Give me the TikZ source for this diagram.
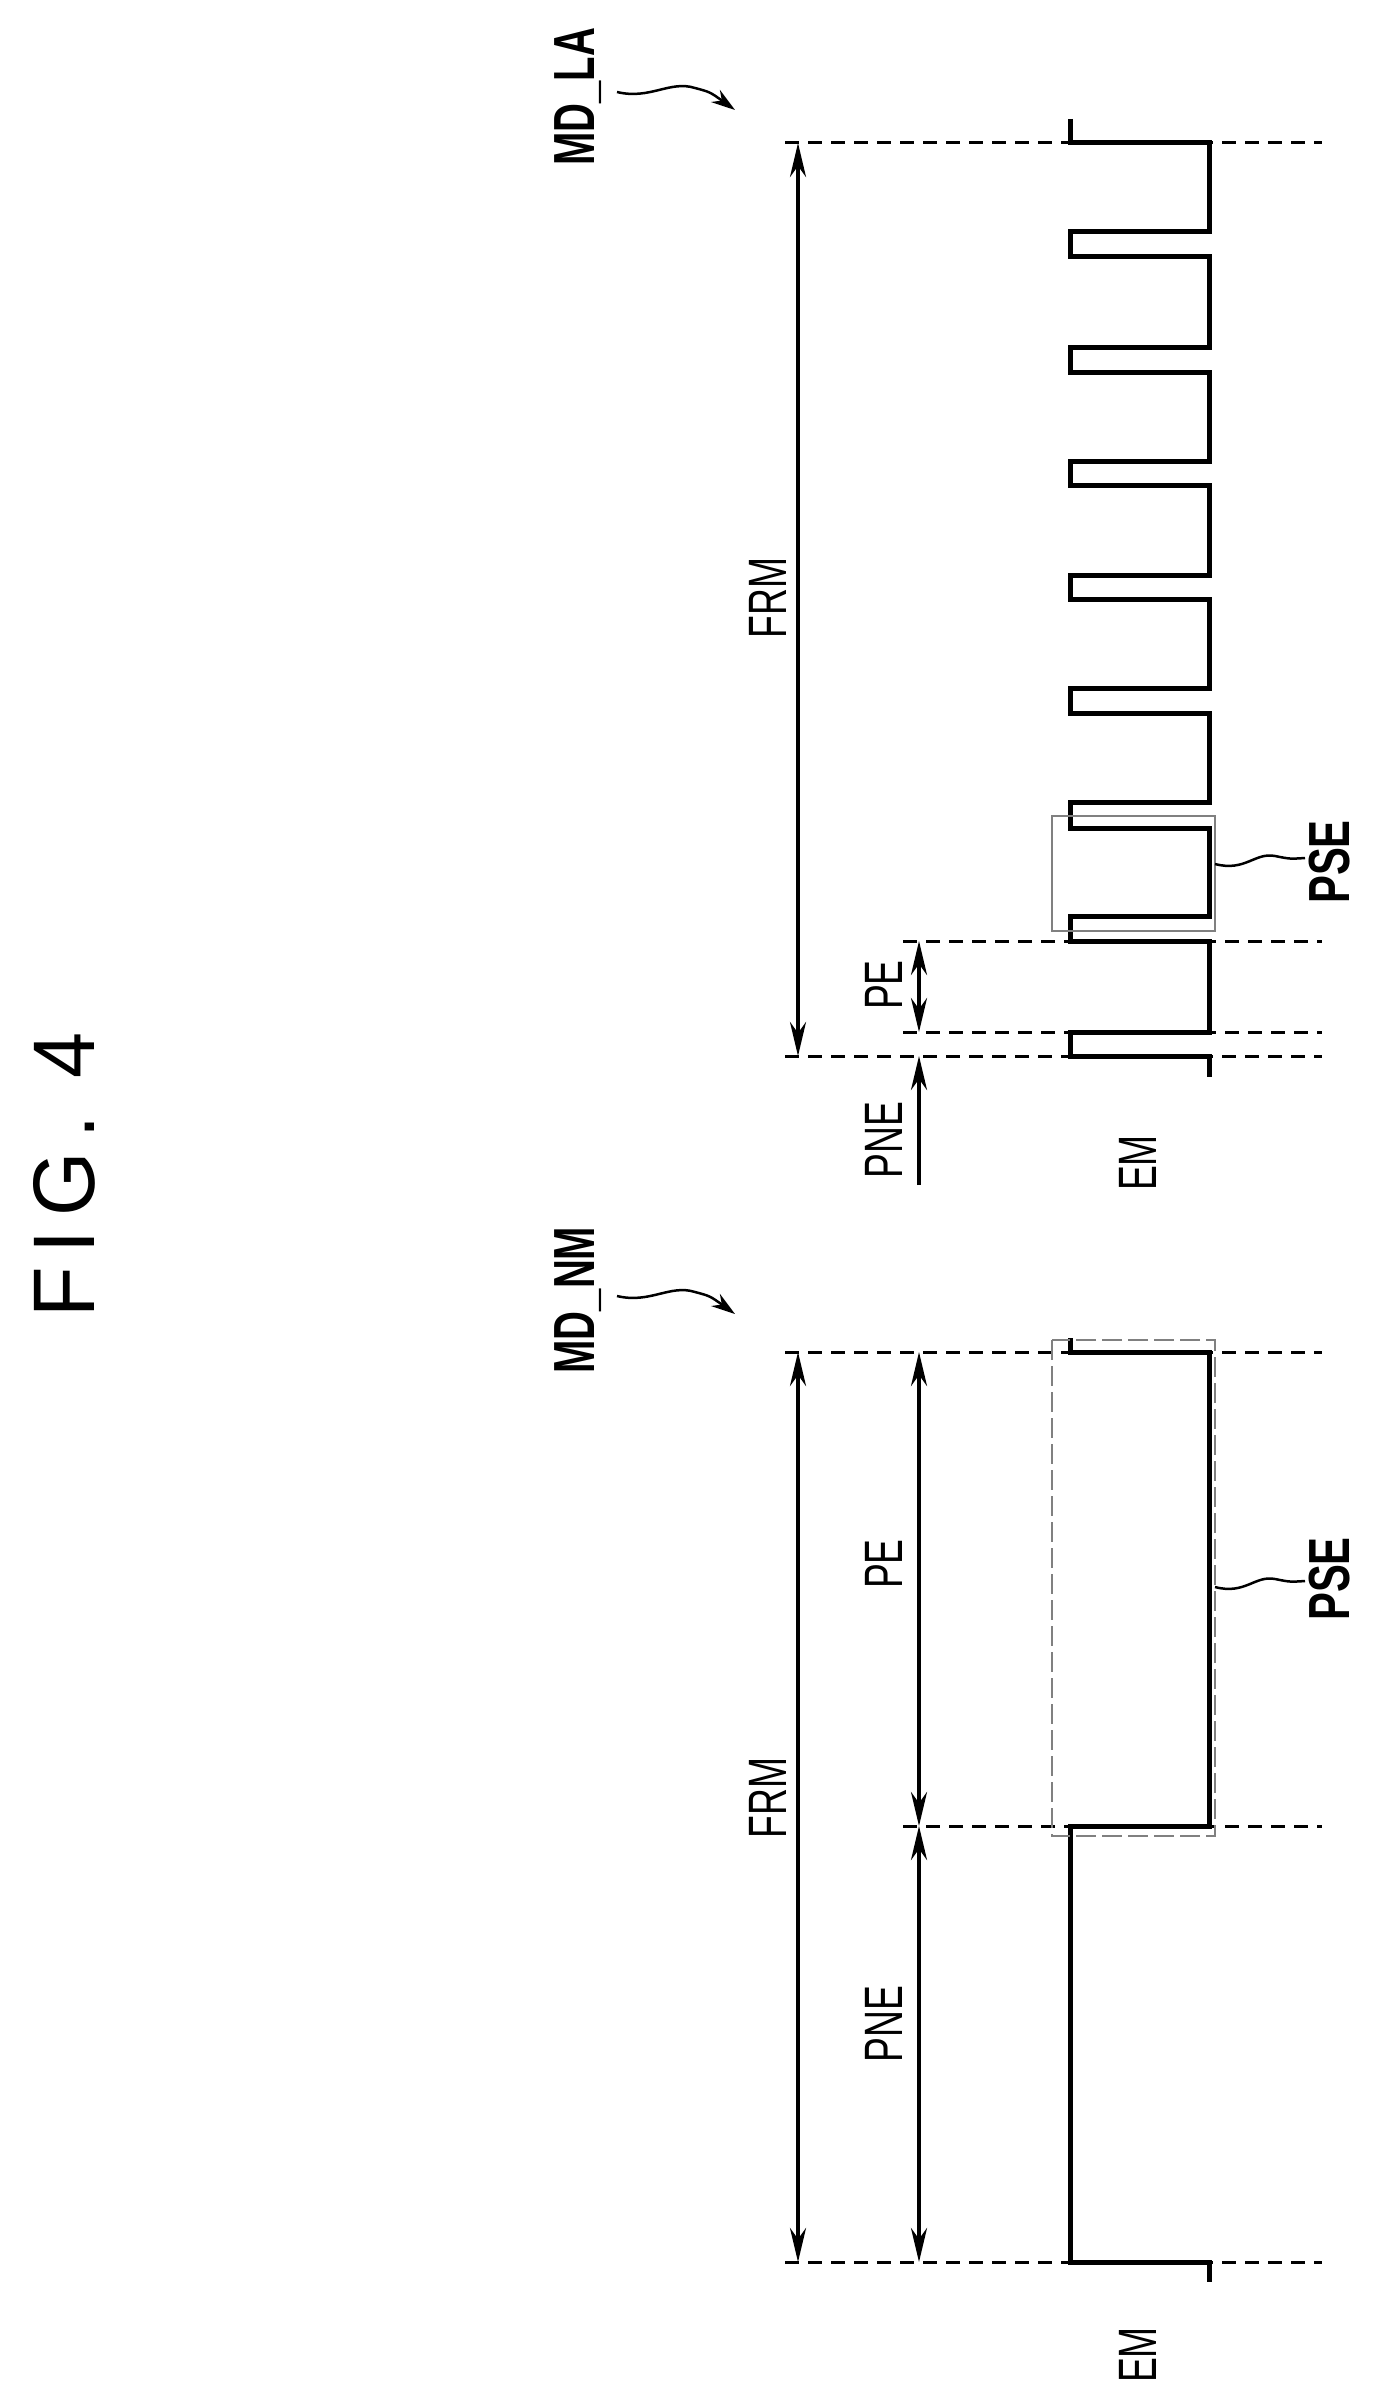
\documentclass[tikz,border=0pt]{standalone}
\usepackage{fontspec}
\setmainfont{Liberation Sans}
\usetikzlibrary{arrows.meta}
\begin{document}
\begin{tikzpicture}[x=1pt,y=-1pt,
  sig/.style={line width=5pt,line join=miter},
  guide/.style={line width=3pt,dash pattern=on 14pt off 9pt},
  dim/.style={line width=4pt,{Stealth[length=34pt,width=16pt]}-{Stealth[length=34pt,width=16pt]}},
  sdim/.style={line width=4pt,-{Stealth[length=34pt,width=16pt]}},
  lbl/.style={rotate=90,font=\fontsize{54}{54}\selectfont},
  blbl/.style={rotate=90,font=\fontsize{58}{58}\selectfont\bfseries},
  lead/.style={line width=2.5pt},
  box/.style={draw=gray,line width=1.8pt}]
\useasboundingbox (0,0) rectangle (1375,2408);
% title
\node[rotate=90,font=\fontsize{92}{92}\selectfont] (fig) at (64,1175) {\scalebox{0.9}[0.95]{F\,I\,G\,.\;\,4}};
% ---------- top panel MD_LA ----------
\foreach \y/\x in {143/785,941/903,1032/903,1056/785}{\draw[guide] (\x,\y) -- (1322,\y);}
\draw[sig] (1070,119) -- (1070,143) -- (1209,143)
  \foreach \a/\b in {232/257,347/372,461/485,575/599,688/713,802/828,916/941,1032/1056}{
   -- (1209,\a) -- (1070,\a) -- (1070,\b) -- (1209,\b)} -- (1209,1077);
\draw[box] (1052,816) rectangle (1215,931);
\coordinate (a1) at (798,143); \coordinate (a2) at (798,1056);
\draw[dim] (a1) -- (a2);
\coordinate (p1) at (919,941); \coordinate (p2) at (919,1032);
\draw[dim] (p1) -- (p2);
\coordinate (n1) at (919,1185); \coordinate (n2) at (919,1056);
\draw[sdim] (n1) -- (n2);
\node[lbl] (frmA) at (768,598) {\scalebox{0.69}[1]{FRM}};
\node[lbl] (peA) at (884,985) {\scalebox{0.69}[1]{PE}};
\node[lbl] (pneA) at (884,1140) {\scalebox{0.69}[1]{PNE}};
\node[lbl] (emA) at (1138,1163) {\scalebox{0.69}[1]{EM}};
\node[blbl] (mdla) at (578,97) {\scalebox{0.69}[1]{MD\_LA}};
\coordinate (wA1) at (617,92); \coordinate (wA2) at (735,110);
\draw[lead,-{Stealth[length=24pt,width=15pt]}] (wA1) .. controls (650,100) and (670,80) .. (695,88) .. controls (710,92) .. (wA2);
\node[blbl] (pseA) at (1330,862) {\scalebox{0.72}[1]{PSE}};
\coordinate (lA1) at (1215,864); \coordinate (lA2) at (1305,858);
\draw[lead] (lA1) .. controls (1245,872) and (1255,852) .. (1275,856) .. controls (1290,859) .. (lA2);
% ---------- bottom panel MD_NM ----------
\foreach \y/\x in {1352/785,1826/903,2262/785}{\draw[guide] (\x,\y) -- (1322,\y);}
\draw[sig] (1070,1338) -- (1070,1352) -- (1209,1352) -- (1209,1826) -- (1070,1826)
  -- (1070,2262) -- (1209,2262) -- (1209,2282);
\draw[box,dashed,dash pattern=on 20pt off 6pt] (1052,1340) rectangle (1215,1836);
\coordinate (b1) at (798,1352); \coordinate (b2) at (798,2262);
\draw[dim] (b1) -- (b2);
\coordinate (q1) at (919,1352); \coordinate (q2) at (919,1826);
\draw[dim] (q1) -- (q2);
\coordinate (m1) at (919,1826); \coordinate (m2) at (919,2262);
\draw[dim] (m1) -- (m2);
\node[lbl] (frmB) at (768,1798) {\scalebox{0.69}[1]{FRM}};
\node[lbl] (peB) at (884,1564) {\scalebox{0.69}[1]{PE}};
\node[lbl] (pneB) at (884,2024) {\scalebox{0.69}[1]{PNE}};
\node[lbl] (emB) at (1138,2355) {\scalebox{0.69}[1]{EM}};
\node[blbl] (mdnm) at (578,1300) {\scalebox{0.69}[1]{MD\_NM}};
\coordinate (wB1) at (617,1296); \coordinate (wB2) at (735,1314);
\draw[lead,-{Stealth[length=24pt,width=15pt]}] (wB1) .. controls (650,1304) and (670,1284) .. (695,1292) .. controls (710,1296) .. (wB2);
\node[blbl] (pseB) at (1330,1579) {\scalebox{0.72}[1]{PSE}};
\coordinate (lB1) at (1215,1587); \coordinate (lB2) at (1305,1581);
\draw[lead] (lB1) .. controls (1245,1595) and (1255,1575) .. (1275,1579) .. controls (1290,1582) .. (lB2);
\end{tikzpicture}
\end{document}
